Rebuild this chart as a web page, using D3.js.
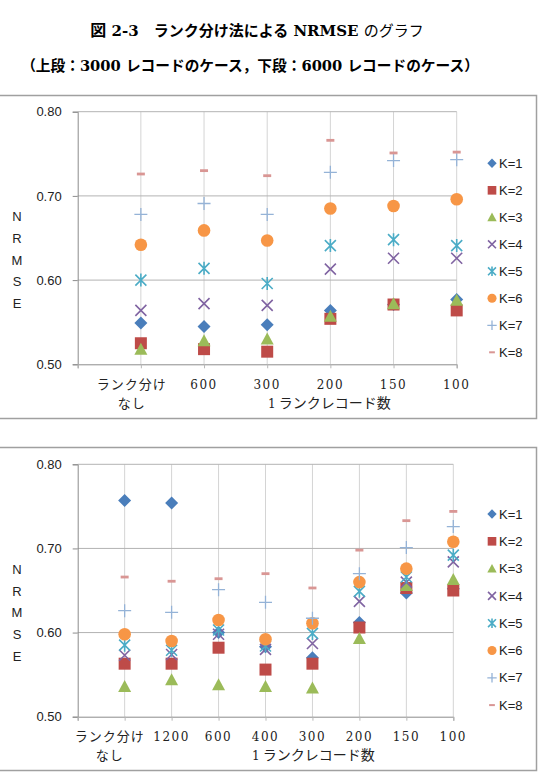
<!DOCTYPE html>
<html>
<head>
<meta charset="utf-8">
<script src="https://cdn.jsdelivr.net/npm/d3@7"></script>
<style>
  body { margin: 0; background: #fff; }
</style>
</head>
<body>
<svg id="fig" width="542" height="782"></svg>
<script>

// ---- data ----
const seriesNames = ["K=1", "K=2", "K=3", "K=4", "K=5", "K=6", "K=7", "K=8"];
const seriesColors = ["#4a7ebb", "#be4b48", "#9bbb59", "#8064a2", "#4bacc6", "#f79646", "#95b3d7", "#d99694"];
const seriesMarkers = ["diamond", "square", "triangle", "x", "star", "circle", "plus", "dash"];
const yTicks = [0.50, 0.60, 0.70, 0.80];

// upper panel: 3000 records
const topCats = ["ランク分けなし", "600", "300", "200", "150", "100"];
const topValues = [
  [0.549, 0.545, 0.547, 0.564, 0.571, 0.577], // K=1
  [0.525, 0.518, 0.515, 0.554, 0.571, 0.564], // K=2
  [0.518, 0.528, 0.530, 0.557, 0.572, 0.576], // K=3
  [0.564, 0.572, 0.570, 0.613, 0.626, 0.626], // K=4
  [0.600, 0.614, 0.596, 0.641, 0.648, 0.641], // K=5
  [0.642, 0.659, 0.647, 0.685, 0.688, 0.696], // K=6
  [0.678, 0.691, 0.678, 0.728, 0.742, 0.743], // K=7
  [0.726, 0.730, 0.724, 0.766, 0.751, 0.752]  // K=8
];

// lower panel: 6000 records
const bottomCats = ["ランク分けなし", "1200", "600", "400", "300", "200", "150", "100"];
const bottomValues = [
  [0.757, 0.754, 0.600, 0.583, 0.570, 0.612, 0.647, 0.652], // K=1
  [0.563, 0.563, 0.582, 0.556, 0.563, 0.606, 0.653, 0.650], // K=2
  [0.536, 0.544, 0.538, 0.536, 0.534, 0.593, 0.656, 0.663], // K=3
  [0.573, 0.574, 0.598, 0.580, 0.587, 0.637, 0.660, 0.684], // K=4
  [0.585, 0.579, 0.603, 0.584, 0.599, 0.649, 0.666, 0.692], // K=5
  [0.598, 0.590, 0.615, 0.592, 0.611, 0.660, 0.676, 0.708], // K=6
  [0.626, 0.624, 0.651, 0.636, 0.617, 0.670, 0.701, 0.726], // K=7
  [0.666, 0.661, 0.664, 0.670, 0.653, 0.698, 0.733, 0.744]  // K=8
];

const JP = "'Noto Sans CJK JP', sans-serif";
const SERIF = "'DejaVu Serif', 'Noto Sans CJK JP', serif";
const SANS = "'Liberation Sans', Arial, sans-serif";

const svg = d3.select("#fig");

// ---- title ----
const t1 = svg.append("text")
  .attr("x", 257).attr("y", 36)
  .attr("text-anchor", "middle")
  .attr("font-family", SERIF)
  .attr("font-size", 15)
  .attr("font-weight", "bold");
t1.append("tspan").attr("font-family", JP).attr("font-size", 16).text("図");
t1.append("tspan").text(" 2-3");
t1.append("tspan").attr("font-family", JP).text("　ランク分け法による");
t1.append("tspan").text(" NRMSE ");
t1.append("tspan").attr("font-family", JP).attr("font-weight", "normal").text("のグラフ");

const t2 = svg.append("text")
  .attr("x", 250).attr("y", 71)
  .attr("text-anchor", "middle")
  .attr("font-family", JP)
  .attr("font-size", 14.7)
  .attr("font-weight", "bold");
t2.append("tspan").text("（上段：");
t2.append("tspan").attr("font-family", SERIF).text("3000 ");
t2.append("tspan").text("レコードのケース，下段：");
t2.append("tspan").attr("font-family", SERIF).text("6000 ");
t2.append("tspan").text("レコードのケース）");

// ---- marker shapes ----
function markerPath(type, s) {
  switch (type) {
    case "diamond": return `M0,${-6.5*s}L${6.5*s},0L0,${6.5*s}L${-6.5*s},0Z`;
    case "square": return `M${-6*s},${-6*s}h${12*s}v${12*s}h${-12*s}Z`;
    case "triangle": return `M0,${-6.5*s}L${6.5*s},${5.5*s}L${-6.5*s},${5.5*s}Z`;
    case "x": return `M${-5.5*s},${-5.5*s}L${5.5*s},${5.5*s}M${-5.5*s},${5.5*s}L${5.5*s},${-5.5*s}`;
    case "star": return `M${-5.5*s},${-5.5*s}L${5.5*s},${5.5*s}M${-5.5*s},${5.5*s}L${5.5*s},${-5.5*s}M0,${-6.5*s}V${6.5*s}`;
    case "plus": return `M${-6.5*s},0H${6.5*s}M0,${-6.5*s}V${6.5*s}`;
    case "dash": return `M${-4*s},${-1.4*s}h${8*s}v${2.8*s}h${-8*s}Z`;
  }
  return "";
}

function drawMarker(sel, type, color, s) {
  if (type === "circle") {
    sel.append("circle").attr("r", 6.3 * s).attr("fill", color);
  } else if (type === "x" || type === "star" || type === "plus") {
    sel.append("path").attr("d", markerPath(type, s))
      .attr("fill", "none").attr("stroke", color)
      .attr("stroke-width", type === "plus" ? 1.3 : 1.6);
  } else {
    sel.append("path").attr("d", markerPath(type, s)).attr("fill", color);
  }
}

// ---- one panel ----
function drawPanel(p) {
  const g = svg.append("g");

  g.append("rect")
    .attr("x", -2).attr("y", p.boxTop)
    .attr("width", 538.5).attr("height", p.boxHeight)
    .attr("fill", "#fff").attr("stroke", "#a0a0a0").attr("stroke-width", 1.5);

  const x = d3.scalePoint().domain(["", ...p.cats]).range([p.left, p.right]);
  const y = d3.scaleLinear().domain([0.5, 0.8]).range([p.bottom, p.top]);

  // vertical gridlines
  g.append("g").selectAll("line")
    .data(p.cats)
    .join("line")
    .attr("x1", d => x(d)).attr("x2", d => x(d))
    .attr("y1", p.top).attr("y2", p.bottom)
    .attr("stroke", "#d4d4d4").attr("stroke-width", 1);

  // horizontal gridlines
  g.append("g").selectAll("line")
    .data(yTicks.slice(1))
    .join("line")
    .attr("x1", p.left).attr("x2", p.right)
    .attr("y1", d => y(d)).attr("y2", d => y(d))
    .attr("stroke", "#b3b3b3").attr("stroke-width", 1);

  // axes
  const yAxis = g.append("g")
    .attr("transform", `translate(${p.left},0)`)
    .call(d3.axisLeft(y).tickValues(yTicks).tickFormat(d3.format(".2f")).tickSize(5).tickPadding(11));
  yAxis.select(".domain").attr("stroke", "#8c8c8c");
  yAxis.selectAll(".tick line").attr("stroke", "#8c8c8c");
  yAxis.selectAll("text").attr("font-family", SANS).attr("font-size", 13).attr("fill", "#222");

  const xAxis = g.append("g")
    .attr("transform", `translate(0,${p.bottom})`)
    .call(d3.axisBottom(x).tickSize(4).tickFormat(""));
  xAxis.select(".domain").attr("stroke", "#8c8c8c");
  xAxis.selectAll(".tick line").attr("stroke", "#b8b8b8");

  // category labels
  p.cats.forEach((c, i) => {
    if (i === 0) {
      g.append("text").attr("x", x(c) + p.firstShift).attr("y", p.labelY)
        .attr("text-anchor", "middle").attr("font-family", JP).attr("font-size", 13)
        .attr("letter-spacing", 1).attr("fill", "#222").text("ランク分け");
      g.append("text").attr("x", x(c) + p.firstShift).attr("y", p.labelY + 19)
        .attr("text-anchor", "middle").attr("font-family", JP).attr("font-size", 13)
        .attr("letter-spacing", 1).attr("fill", "#222").text("なし");
    } else {
      g.append("text").attr("x", x(c)).attr("y", p.labelY)
        .attr("text-anchor", "middle").attr("font-family", SERIF).attr("font-size", 12)
        .attr("letter-spacing", 1.5).attr("fill", "#222").text(c);
    }
  });

  // x axis title
  const xt = g.append("text").attr("x", p.xTitleX).attr("y", p.labelY + 19)
    .attr("font-size", 14).attr("fill", "#222");
  xt.append("tspan").attr("font-family", SERIF).attr("font-size", 12).text("1");
  xt.append("tspan").attr("font-family", JP).text(" ランクレコード数");

  // y axis title, letters stacked
  g.append("g").selectAll("text")
    .data("NRMSE".split(""))
    .join("text")
    .attr("x", 17).attr("y", (d, i) => p.yTitleTop + i * 21.7)
    .attr("dy", "0.35em")
    .attr("text-anchor", "middle")
    .attr("font-family", SANS).attr("font-size", 13).attr("fill", "#222")
    .text(d => d);

  // markers, K=1 drawn first
  p.values.forEach((vals, k) => {
    const sg = g.append("g");
    vals.forEach((v, i) => {
      const m = sg.append("g").attr("transform", `translate(${x(p.cats[i])},${y(v)})`);
      drawMarker(m, seriesMarkers[k], seriesColors[k], 1);
    });
  });

  // legend
  const lg = g.append("g");
  seriesNames.forEach((name, k) => {
    const row = lg.append("g").attr("transform", `translate(492,${p.legendTop + k * p.legendStep})`);
    drawMarker(row, seriesMarkers[k], seriesColors[k], 0.72);
    row.append("text").attr("x", 7).attr("dy", "0.36em")
      .attr("font-family", SANS).attr("font-size", 13).attr("fill", "#222")
      .text(name);
  });
}

drawPanel({
  cats: topCats, values: topValues,
  boxTop: 95.5, boxHeight: 323,
  left: 77.7, right: 456.7, top: 111.7, bottom: 364.3,
  labelY: 388.5, firstShift: -9, xTitleX: 268,
  yTitleTop: 216.7, legendTop: 163.3, legendStep: 27
});

drawPanel({
  cats: bottomCats, values: bottomValues,
  boxTop: 447.5, boxHeight: 323,
  left: 77.7, right: 453.3, top: 464.3, bottom: 716.7,
  labelY: 741, firstShift: -15, xTitleX: 252,
  yTitleTop: 569.3, legendTop: 514, legendStep: 27.3
});

</script>
</body>
</html>
